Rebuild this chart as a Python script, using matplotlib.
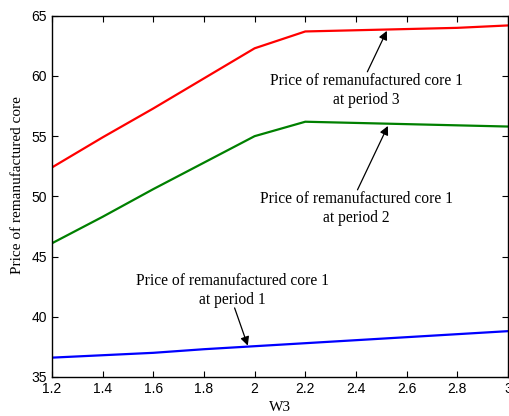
import numpy as np
import matplotlib.pyplot as plt

# W3 values and core prices for each period
w3 = [1.2, 1.4, 1.6, 1.8, 2.0, 2.2, 2.4, 2.6, 2.8, 3.0]
price_period3 = [52.4, 54.9, 57.3, 59.8, 62.3, 63.7, 63.8, 63.9, 64.0, 64.2]
price_period2 = [46.1, 48.3, 50.6, 52.8, 55.0, 56.2, 56.1, 56.0, 55.9, 55.8]
price_period1 = [36.6, 36.8, 37.0, 37.3, 37.55, 37.8, 38.05, 38.3, 38.55, 38.8]

xticks = [1.2, 1.4, 1.6, 1.8, 2, 2.2, 2.4, 2.6, 2.8, 3]
yticks = [35, 40, 45, 50, 55, 60, 65]

fig = plt.figure(figsize=(5.09, 4.16), dpi=100)
ax = fig.add_axes([0.102, 0.094, 0.896, 0.868])

ax.plot(w3, price_period3, color='red', lw=1.6)
ax.plot(w3, price_period2, color='green', lw=1.6)
ax.plot(w3, price_period1, color='blue', lw=1.6)

ax.set_xlim(1.2, 3)
ax.set_ylim(35, 65)
ax.set_xticks(xticks)
ax.set_xticklabels([('%g' % t) for t in xticks])
ax.set_yticks(yticks)
ax.tick_params(direction='in', top=True, right=True, length=4, labelsize=10)
for lab in ax.get_xticklabels() + ax.get_yticklabels():
    lab.set_family('Liberation Sans')
for spine in ax.spines.values():
    spine.set_linewidth(1.0)

serif = 'Liberation Serif'
ax.set_xlabel('W3', family=serif, fontsize=11, labelpad=4)
ax.set_ylabel('Price of remanufactured core', family=serif, fontsize=11, labelpad=4)
ax.yaxis.set_label_coords(-0.061, 0.53)

# labels and arrows pointing at each curve
notes = [
    ('Price of remanufactured core 1\nat period 3', (2.441, 58.8), (2.445, 60.35), (2.522, 63.75)),
    ('Price of remanufactured core 1\nat period 2', (2.402, 48.96), (2.406, 50.54), (2.526, 55.85)),
    ('Price of remanufactured core 1\nat period 1', (1.913, 42.2), (1.921, 40.73), (1.973, 37.6)),
]
arrow = dict(arrowstyle='-|>', color='black', lw=0.9, mutation_scale=13,
             shrinkA=0, shrinkB=0)
for text, pos, tail, head in notes:
    ax.text(pos[0], pos[1], text, ha='center', va='center', family=serif,
            fontsize=11.2, linespacing=1.25)
    ax.annotate('', xy=head, xytext=tail, arrowprops=arrow)

fig.savefig('out.png', dpi=100)
